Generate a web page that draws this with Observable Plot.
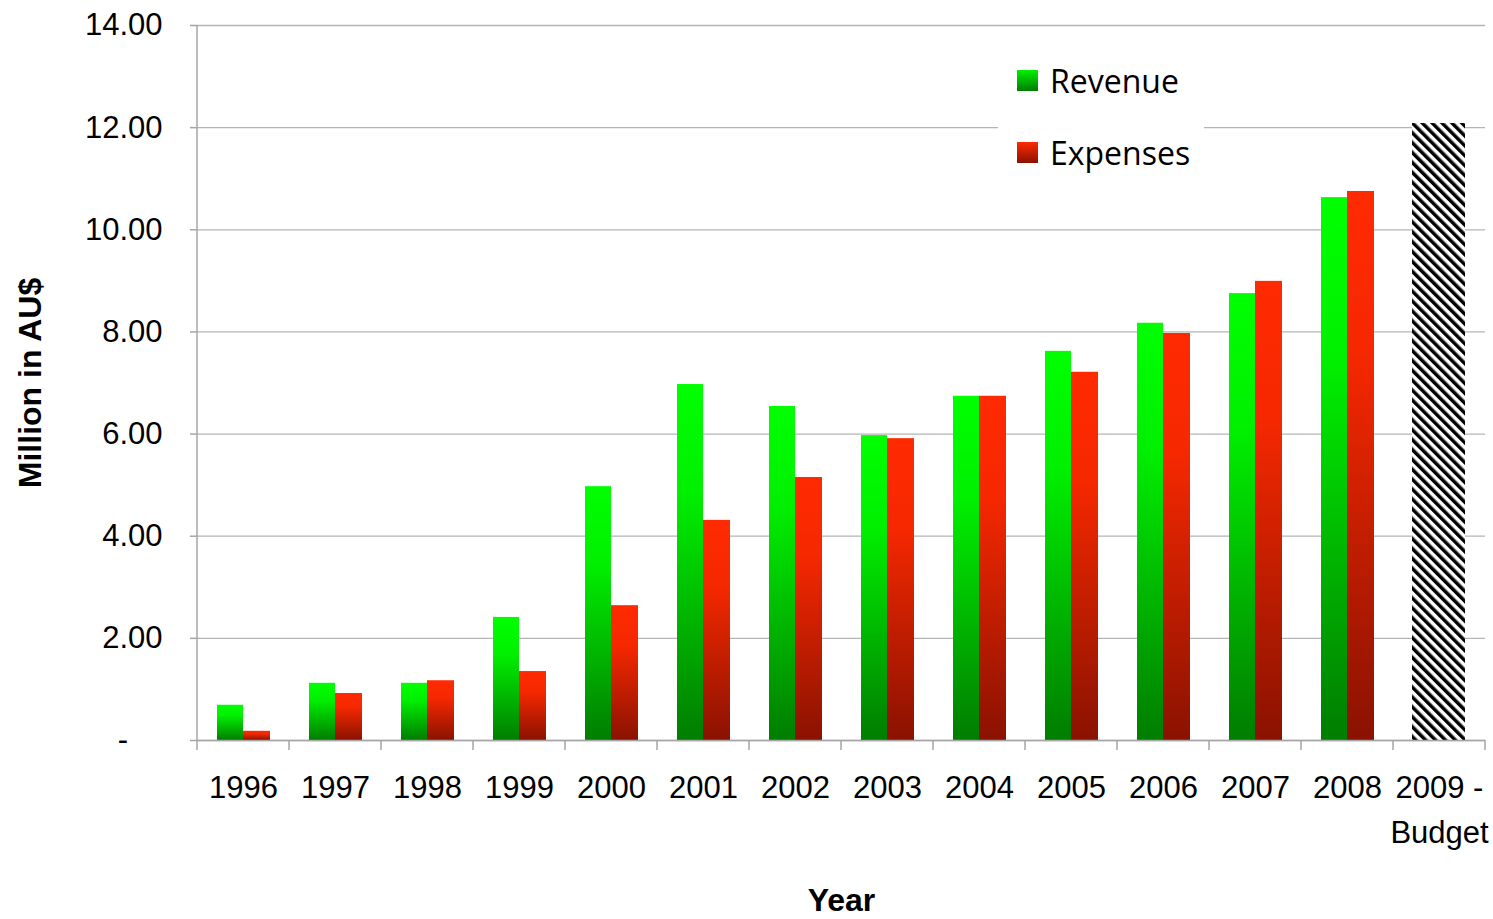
<!DOCTYPE html>
<html>
<head>
<meta charset="utf-8">
<script src="https://cdn.jsdelivr.net/npm/d3@7"></script>
<script src="https://cdn.jsdelivr.net/npm/@observablehq/plot@0.6"></script>
<style>
  html, body { margin: 0; padding: 0; background: #fff; }
  #wrap { position: relative; width: 1493px; height: 919px; overflow: hidden; }
  #legend { position: absolute; left: 998px; top: 48px; width: 206px; height: 138px; background: #fff;
            font-family: "Open Sans", "Noto Sans", sans-serif; font-size: 32px; color: #000; }
  .row { position: absolute; left: 19px; display: flex; align-items: center; height: 40px; }
  .sw { width: 21px; height: 21px; margin-right: 12px; }
</style>
</head>
<body>
<div id="wrap"></div>
<script>
// ---- data ----
const years = ["1996","1997","1998","1999","2000","2001","2002","2003","2004","2005","2006","2007","2008","2009 -\nBudget"];
const revenue  = [0.69, 1.12, 1.12, 2.41, 4.97, 6.97, 6.54, 5.97, 6.74, 7.62, 8.17, 8.75, 10.63, null];
const expenses = [0.18, 0.92, 1.17, 1.35, 2.64, 4.31, 5.15, 5.91, 6.74, 7.21, 7.97, 8.99, 10.75, null];
const budgetYear = "2009 -\nBudget";
const budget = [12.08];
const yTicks = [0, 2, 4, 6, 8, 10, 12, 14];
const seriesNames = ["Revenue", "Expenses"];

const revRows = years.map((y, i) => ({year: y, value: revenue[i]})).filter(d => d.value != null);
const expRows = years.map((y, i) => ({year: y, value: expenses[i]})).filter(d => d.value != null);
const budRows = budget.map(v => ({year: budgetYear, value: v}));

const axisGray = "#a6a6a6";

function boundaryTicks(index, scales, values, dimensions) {
  const {x, y} = scales;
  const bw = typeof x.bandwidth === "function" ? x.bandwidth() : x.bandwidth;
  const g = d3.create("svg:g").attr("stroke", axisGray).attr("stroke-width", 1.5);
  const y0 = y(0);
  const bounds = years.map(d => x(d)).concat([x(years[years.length - 1]) + bw]);
  for (const bx of bounds) {
    g.append("line").attr("x1", bx).attr("x2", bx).attr("y1", y0).attr("y2", y0 + 10);
  }
  const x0 = x(years[0]);
  g.append("line").attr("x1", x0).attr("x2", x0).attr("y1", y(14)).attr("y2", y0);
  return g.node();
}

const plot = Plot.plot({
  width: 1493,
  height: 919,
  marginLeft: 197,
  marginRight: 8,
  marginTop: 25,
  marginBottom: 179,
  style: {fontFamily: "'Liberation Sans', Arial, sans-serif", fontSize: "31px", color: "#000", background: "#fff"},
  x: {domain: years, paddingInner: 0, paddingOuter: 0, label: null},
  y: {domain: [0, 14], label: null},
  marks: [
    Plot.gridY(yTicks, {stroke: "#b4b4b4", strokeOpacity: 1, strokeWidth: 1.3}),
    Plot.barY(revRows, {x: "year", y: "value", fill: "url(#gGreen)", insetLeft: 20, insetRight: 46}),
    Plot.barY(expRows, {x: "year", y: "value", fill: "url(#gRed)", insetLeft: 46, insetRight: 19}),
    Plot.barY(budRows, {x: "year", y: "value", fill: "url(#hatch)", insetLeft: 19, insetRight: 20}),
    Plot.ruleY([0], {stroke: axisGray, strokeWidth: 1.5}),
    boundaryTicks,
    Plot.axisY(yTicks, {
      tickSize: 7, tickPadding: 28, stroke: axisGray, strokeWidth: 1.5, fontSize: 31, label: null,
      tickFormat: d => d === 0 ? "-\u2007\u2007" : d.toFixed(2)
    }),
    Plot.axisX({tickSize: 0, tickPadding: 26, fontSize: 31, lineHeight: 1.45, label: null}),
    Plot.text(["Million in AU$"], {frameAnchor: "left", rotate: -90, dx: -167, textAnchor: "middle", fontWeight: "bold", fontSize: 32, fill: "#000"}),
    Plot.text(["Year"], {frameAnchor: "bottom", dy: 170, fontWeight: "bold", fontSize: 32, fill: "#000"})
  ]
});

// gradient and hatch definitions
const defs = d3.select(plot).insert("defs", ":first-child");
const gG = defs.append("linearGradient").attr("id", "gGreen").attr("x1", 0).attr("y1", 0).attr("x2", 0).attr("y2", 1);
gG.append("stop").attr("offset", "0%").attr("stop-color", "#00ff00");
gG.append("stop").attr("offset", "30%").attr("stop-color", "#00f000");
gG.append("stop").attr("offset", "100%").attr("stop-color", "#007d00");
const gR = defs.append("linearGradient").attr("id", "gRed").attr("x1", 0).attr("y1", 0).attr("x2", 0).attr("y2", 1);
gR.append("stop").attr("offset", "0%").attr("stop-color", "#ff2a00");
gR.append("stop").attr("offset", "30%").attr("stop-color", "#f52800");
gR.append("stop").attr("offset", "100%").attr("stop-color", "#8a1200");
const pat = defs.append("pattern").attr("id", "hatch").attr("patternUnits", "userSpaceOnUse")
  .attr("width", 7).attr("height", 7).attr("patternTransform", "rotate(-45)");
pat.append("rect").attr("width", 7).attr("height", 7).attr("fill", "#fff");
pat.append("rect").attr("width", 3.5).attr("height", 7).attr("fill", "#000");

const wrap = document.getElementById("wrap");
wrap.appendChild(plot);

// legend
const legend = document.createElement("div");
legend.id = "legend";
const swatches = [
  "linear-gradient(#00f000, #007d00)",
  "linear-gradient(#ff2a00, #8a1200)"
];
seriesNames.forEach((name, i) => {
  const row = document.createElement("div");
  row.className = "row";
  row.style.top = (i === 0 ? 12 : 84) + "px";
  const sw = document.createElement("div");
  sw.className = "sw";
  sw.style.background = swatches[i];
  const t = document.createElement("span");
  t.textContent = name;
  row.appendChild(sw);
  row.appendChild(t);
  legend.appendChild(row);
});
wrap.appendChild(legend);
</script>
</body>
</html>
